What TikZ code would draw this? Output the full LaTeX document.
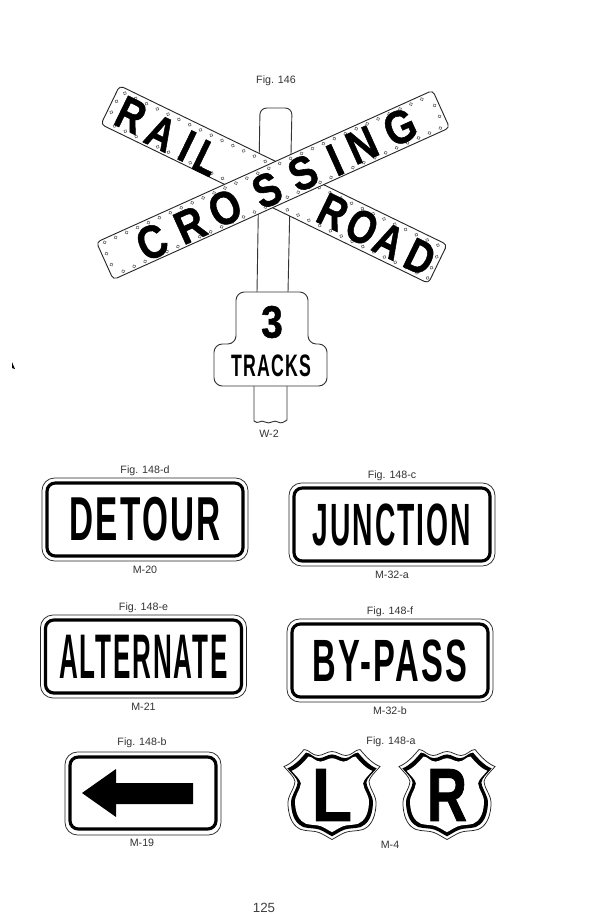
\documentclass[tikz,border=0pt]{standalone}
\usepackage{fontspec}
\usepackage{graphicx}
\setmainfont{Liberation Sans}
\newfontfamily\heavyfont[UprightFont={* Bold},FakeBold=1.2]{Liberation Sans}
\newfontfamily\spacedfont[UprightFont={* Bold},LetterSpace=7]{Liberation Sans}
\usetikzlibrary{positioning}
\tikzset{board/.style={draw=black!85,fill=white,line width=.55pt,rounded corners=2.4pt},rivet/.style={draw=black!65,line width=.3pt},postline/.style={draw=black!80,fill=white,line width=.55pt},note/.style={font=\fontsize{6.4}{7}\selectfont,text=black!80,inner sep=0pt},outerbox/.style={draw=black!85,fill=white,line width=.45pt,rounded corners=7.5pt},innerbox/.style={draw=black,line width=1.9pt,rounded corners=5pt},bigletter/.style={font=\fontsize{28}{28}\selectfont\heavyfont,inner sep=0pt},signword/.style={font=\spacedfont,inner sep=0pt},heavyword/.style={font=\heavyfont,inner sep=0pt}}
\newcommand{\shieldpath}{(0,-42) .. controls (5,-42) and (9,-38) .. (14,-38) .. controls (20,-38) and (23,-44) .. (28,-44) .. controls (33,-38) and (40,-30) .. (48,-27) .. controls (42,-20) and (38,-17) .. (37,-12) .. controls (38,-3) and (45,2) .. (44,12) .. controls (43,26) and (38,33) .. (31,36) .. controls (24,38) and (18,37) .. (13,39) .. controls (8,41) and (4,44) .. (0,46) .. controls (-4,44) and (-8,41) .. (-13,39) .. controls (-18,37) and (-24,38) .. (-31,36) .. controls (-38,33) and (-43,26) .. (-44,12) .. controls (-45,2) and (-38,-3) .. (-37,-12) .. controls (-38,-17) and (-42,-20) .. (-48,-27) .. controls (-40,-30) and (-33,-38) .. (-28,-44) .. controls (-23,-44) and (-20,-38) .. (-14,-38) .. controls (-9,-38) and (-5,-42) .. (0,-42) -- cycle}
\begin{document}
\begin{tikzpicture}[x=.6pt,y=-.6pt]
\useasboundingbox[fill=white] (0,0) rectangle (589,918);
\node[note] (fig146) at (276,81) {Fig. 146};
% post behind the boards
\draw[postline,rounded corners=4pt] (257,292) -- (260,108) -- (292,108) -- (288,292);
% first board
\begin{scope}[shift={(274,184.5)},rotate=-25.9]
\draw[board] (-182,-21.5) rectangle (182,21.5);
\foreach \t in {-174,-162,...,174}{
 \draw[rivet] (\t,-17) circle (1.6);
 \draw[rivet] (\t+5,17) circle (1.6);
}
\foreach \s in {-178,178}{
 \draw[rivet] (\s,-6) circle (1.6);
 \draw[rivet] (\s,6) circle (1.6);
}
\end{scope}
\foreach \px/\py/\ltr in {131/115/R,161/133/A,187/146/I,207/158/L,333/212/R,362/227/O,389/241/A,420/257/D}{
 \node[bigletter,rotate=-25.9] (a\px) at (\px,\py) {\scalebox{.8}[1]{\ltr}};
}
% second board
\begin{scope}[shift={(273,185)},rotate=24.3]
\draw[board] (-184.5,-20.5) rectangle (184.5,20.5);
\foreach \t in {-177,-165,...,177}{
 \draw[rivet] (\t,-17) circle (1.6);
 \draw[rivet] (\t+5,17) circle (1.6);
}
\foreach \s in {-180,180}{
 \draw[rivet] (\s,-6) circle (1.6);
 \draw[rivet] (\s,6) circle (1.6);
}
\end{scope}
\foreach \px/\py/\ltr in {152/242/C,190/225/R,225/208/O,267/190/S,303/173/S,335/160/I,362/145/N,400/127/G}{
 \node[bigletter,rotate=24.3] (b\px) at (\px,\py) {\scalebox{.85}[1]{\ltr}};
}
% tracks plate
\draw[postline] (254,386) -- (254,421) .. controls (258,425) and (261,419) .. (265,422) .. controls (270,425) and (274,419) .. (278,422) .. controls (281,424) and (284,422) .. (287,420) -- (287,386);
\draw[postline,rounded corners=5pt] (236,344) -- (236,292) -- (308,292) -- (308,344) -- (327,344) -- (327,386) -- (214,386) -- (214,344) -- cycle;
\node[heavyword] (three) at (272,322) {\resizebox{13pt}{19pt}{3}};
\node[signword] (tracks) at (271,366) {\resizebox{48pt}{13pt}{TRACKS}};
\node[note] (w2) at (269,434) {W-2};
% word plates
\foreach \px/\py/\wdt/\hgt/\word/\figlab/\mlab [count=\k] in {145/519.5/91pt/26pt/DETOUR/Fig. 148-d/M-20,392/524.5/95pt/25pt/JUNCTION/Fig. 148-c/M-32-a,143.5/656.5/101pt/26pt/ALTERNATE/Fig. 148-e/M-21,390/660.5/93pt/25pt/BY-PASS/Fig. 148-f/M-32-b}{
 \draw[outerbox] (\px-103,\py-41.5) rectangle (\px+103,\py+41.5);
 \draw[innerbox] (\px-98,\py-36.5) rectangle (\px+98,\py+36.5);
 \node[signword] (word\k) at (\px,\py) {\resizebox{\wdt}{\hgt}{\word}};
 \node[note] (fig\k) at (\px,\py-49) {\figlab};
 \node[note] (mark\k) at (\px,\py+50) {\mlab};
}
% arrow plate
\draw[outerbox] (65,752) rectangle (221,835);
\draw[innerbox] (70,757) rectangle (216,829);
\fill (82,793) -- (116,769) -- (116,783) -- (193,783) -- (193,804) -- (116,804) -- (116,817) -- cycle;
\node[note] (figb) at (142,743) {Fig. 148-b};
\node[note] (markb) at (142,843) {M-19};
% shields
\foreach \px/\ltr in {332/L,447/R}{
 \begin{scope}[shift={(\px,793.5)}]
 \draw[draw=black!85,fill=white,line width=.45pt] \shieldpath;
 \begin{scope}[scale=.93]\fill[black] \shieldpath;\end{scope}
 \begin{scope}[scale=.84]\fill[white] \shieldpath;\end{scope}
 \end{scope}
 \node[heavyword] (shield\ltr) at (\px,795) {\resizebox{24pt}{31pt}{\ltr}};
}
\node[note] (figa) at (391,742) {Fig. 148-a};
\node[note] (markc) at (390,845) {M-4};
\node[font=\fontsize{8}{8}\selectfont,inner sep=0pt,text=black!75] (page) at (264,908) {125};
\fill (12,362) -- (15,369) -- (12,368) -- cycle;
\end{tikzpicture}
\end{document}
